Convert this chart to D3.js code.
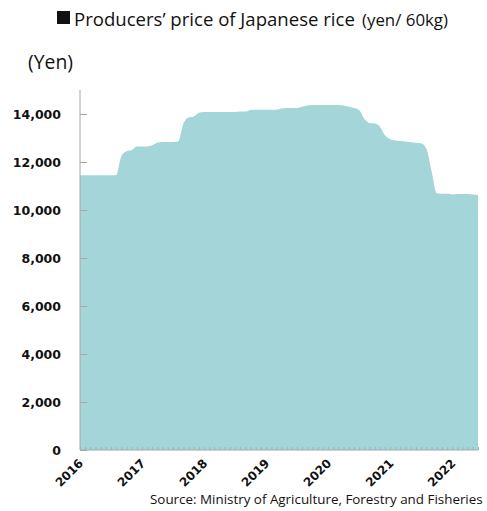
<!DOCTYPE html>
<html>
<head>
<meta charset="utf-8">
<script src="https://cdn.jsdelivr.net/npm/d3@7"></script>
<style>
  html, body { margin: 0; padding: 0; background: #fff; }
  svg { display: block; }
</style>
</head>
<body>
<svg id="chart" width="487" height="511"></svg>
<script>
// ---- data ----
const startMonth = "2016-01";   // first monthly observation
const prices = [
  11450, 11450, 11450, 11450, 11450, 11450, 11450, 11450, // 2016 Jan-Aug
  12250, 12450, 12500, 12650,                             // 2016 Sep-Dec
  12650, 12650, 12700, 12800, 12830, 12830, 12830, 12850, // 2017 Jan-Aug
  13600, 13850, 13900, 14050,                             // 2017 Sep-Dec
  14080, 14080, 14080, 14080, 14080, 14080, 14080, 14100, // 2018 Jan-Aug
  14100, 14170, 14180, 14180,                             // 2018 Sep-Dec
  14180, 14180, 14180, 14230, 14250, 14250, 14250, 14300, // 2019 Jan-Aug
  14350, 14370, 14370, 14370,                             // 2019 Sep-Dec
  14370, 14370, 14370, 14350, 14300, 14250, 14170, 13800, // 2020 Jan-Aug
  13620, 13600, 13470, 13100,                             // 2020 Sep-Dec
  12950, 12900, 12880, 12850, 12820, 12800, 12780, 12550, // 2021 Jan-Aug
  11600, 10700, 10680, 10680,                             // 2021 Sep-Dec
  10650, 10670, 10670, 10670, 10650, 10630                // 2022 Jan-Jun
];
const yTicks = [0, 2000, 4000, 6000, 8000, 10000, 12000, 14000];
const yearLabels = ["2016", "2017", "2018", "2019", "2020", "2021", "2022"];
const titleMain = "Producers\u2019 price of Japanese rice";
const titleUnit = "(yen/ 60kg)";
const yUnit = "(Yen)";
const sourceText = "Source: Ministry of Agriculture, Forestry and Fisheries";

// ---- chart ----
const svg = d3.select("#chart");
const parseMonth = d3.timeParse("%Y-%m");
const t0 = parseMonth(startMonth);
const data = prices.map((v, i) => ({ date: d3.timeMonth.offset(t0, i), value: v }));

const mLeft = 80, mRight = 478, mTop = 90, mBottom = 450;
const x = d3.scaleTime()
  .domain([data[0].date, data[data.length - 1].date])
  .range([mLeft, mRight]);
const y = d3.scaleLinear().domain([0, 15000]).range([mBottom, mTop]);

const fill = "#a3d5d9";
const axisGray = "#a6a6a6";
const textFont = "Open Sans";

// scale a text element's font so it spans the given width
function fitWidth(sel, width) {
  const fs = parseFloat(sel.attr("font-size"));
  const w = sel.node().getComputedTextLength();
  sel.attr("font-size", (fs * width / w).toFixed(2));
}

// area
const area = d3.area()
  .x(d => x(d.date))
  .y0(y(0))
  .y1(d => y(d.value))
  .curve(d3.curveMonotoneX);
svg.append("path").datum(data).attr("d", area).attr("fill", fill);

// y axis
const yAxis = d3.axisLeft(y)
  .tickValues(yTicks)
  .tickSize(-7)
  .tickPadding(19)
  .tickFormat(d3.format(","));
const gy = svg.append("g").attr("transform", `translate(${mLeft},0)`).call(yAxis);
gy.select(".domain").attr("stroke", axisGray).attr("d", `M0,${mTop}V${mBottom}`);
gy.selectAll(".tick line").attr("stroke", axisGray);
gy.selectAll(".tick text")
  .attr("font-family", "DejaVu Sans")
  .attr("font-weight", "bold")
  .attr("font-size", 12.5)
  .attr("fill", "#111");

// x axis: monthly minor ticks
const xAxis = d3.axisBottom(x)
  .ticks(d3.timeMonth.every(1))
  .tickSize(-3)
  .tickFormat("");
const gx = svg.append("g").attr("transform", `translate(0,${mBottom})`).call(xAxis);
gx.select(".domain").attr("stroke", axisGray).attr("d", `M${mLeft},0H${mRight}`);
gx.selectAll(".tick line").attr("stroke", "#8fb9bd");

// year labels (rotated)
const yearDates = yearLabels.map(s => parseMonth(s + "-01"));
svg.append("g").selectAll("text")
  .data(yearLabels)
  .join("text")
  .attr("transform", (d, i) => `translate(${x(yearDates[i]) + 4},${mBottom + 14}) rotate(-45)`)
  .attr("text-anchor", "end")
  .attr("font-family", "DejaVu Sans")
  .attr("font-weight", "bold")
  .attr("font-size", 12)
  .attr("fill", "#111")
  .text(d => d);

// title
svg.append("rect").attr("x", 57).attr("y", 11).attr("width", 13).attr("height", 13).attr("fill", "#111");
const t1 = svg.append("text")
  .attr("x", 74).attr("y", 26)
  .attr("font-family", textFont).attr("font-size", 18)
  .attr("fill", "#111").text(titleMain);
fitWidth(t1, 281);
const t2 = svg.append("text")
  .attr("x", 362).attr("y", 26)
  .attr("font-family", textFont).attr("font-size", 14)
  .attr("fill", "#111").text(titleUnit);
fitWidth(t2, 86);

// y unit
const yu = svg.append("text")
  .attr("x", 28).attr("y", 69)
  .attr("font-family", textFont)
  .attr("font-size", 17)
  .attr("fill", "#111")
  .text(yUnit);
fitWidth(yu, 45);

// source
const src = svg.append("text")
  .attr("x", 150).attr("y", 504)
  .attr("font-family", textFont)
  .attr("font-size", 13)
  .attr("fill", "#111")
  .text(sourceText);
fitWidth(src, 333);
</script>
</body>
</html>
